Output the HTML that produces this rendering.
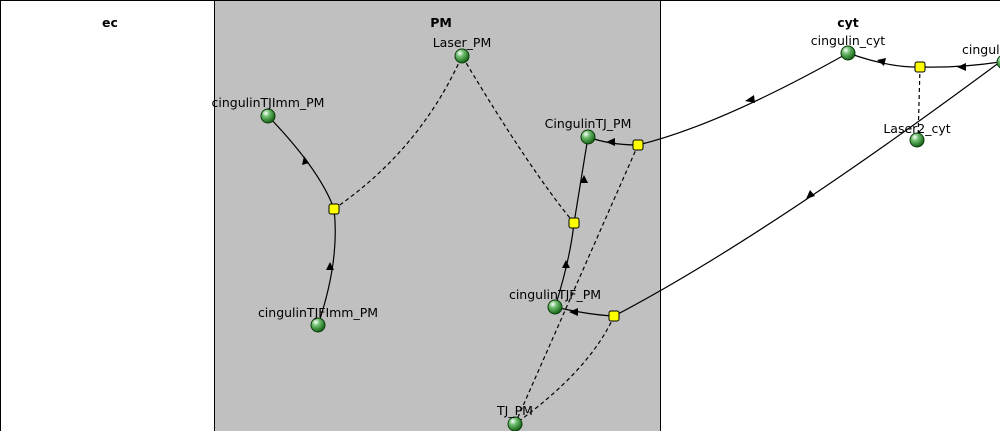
<!DOCTYPE html>
<html><head><style>
body{margin:0;width:1000px;height:431px;overflow:hidden;background:#fff}
svg text{font-family:"DejaVu Sans","Liberation Sans",sans-serif;font-size:12.5px;fill:#000}
</style></head><body>
<svg width="1000" height="431" viewBox="0 0 1000 431">
<defs>
<radialGradient id="g" cx="0.35" cy="0.3" r="0.75">
<stop offset="0" stop-color="#ffffff"/><stop offset="0.35" stop-color="#6fbf6f"/><stop offset="1" stop-color="#0d5a0d"/>
</radialGradient>
</defs>
<rect x="0" y="0" width="1000" height="431" fill="#fff"/>
<rect x="214" y="0" width="446" height="431" fill="#c0c0c0"/>
<line x1="0.5" y1="0" x2="0.5" y2="431" stroke="#000"/>
<line x1="214.5" y1="0" x2="214.5" y2="431" stroke="#000"/>
<line x1="660.5" y1="0" x2="660.5" y2="431" stroke="#000"/>
<line x1="0" y1="0.5" x2="1000" y2="0.5" stroke="#000"/>
<text x="110" y="27" text-anchor="middle" font-weight="bold">ec</text>
<text x="441" y="27" text-anchor="middle" font-weight="bold">PM</text>
<text x="848" y="27" text-anchor="middle" font-weight="bold">cyt</text>
<g fill="none" stroke="#000" stroke-width="1.2">
<path d="M334,209 Q420,150 462,56" stroke-dasharray="4,3"/>
<path d="M574,223 Q530,170 462,56" stroke-dasharray="4,3"/>
<path d="M638,145 L515,424" stroke-dasharray="4,3"/>
<path d="M614,316 Q590,370 515,424" stroke-dasharray="4,3"/>
<path d="M920,67 L918,140" stroke-dasharray="4,3"/>
<path d="M318,325 Q340,260 334,209"/>
<path d="M334,209 Q320,170 268,116"/>
<path d="M555,307 Q570,260 574,223"/>
<path d="M574,223 L588,137"/>
<path d="M638,145 Q610,145 588,137"/>
<path d="M848,53 Q720,125 638,145"/>
<path d="M1000,62 Q960,68 920,67"/>
<path d="M920,67 Q890,68 848,53"/>
<path d="M1000,62 Q760,240 614,316"/>
<path d="M614,316 Q590,315 555,307"/>
</g>
<g fill="#000">
<path d="M330,262 l-4,8 h8 z"/>
<path d="M302,165 l2,-9 l5,7 z"/>
<path d="M566,260 l-4,8 h8 z"/>
<path d="M584,175 l-4,8 h8 z"/>
<path d="M606,142 l9,-4 l0,8 z"/>
<path d="M745,101 l9,-6 l1,8 z"/>
<path d="M877,60 l9,-2 l-2,8 z"/>
<path d="M957,67 l9,-4 l0,8 z"/>
<path d="M806,199 l4,-9 l5,6 z"/>
<path d="M569,312 l9,-4 l0,8 z"/>
</g>
<g fill="#ffff00" stroke="#000" stroke-width="1">
<rect x="329" y="204" width="10" height="10" rx="2"/>
<rect x="569" y="218" width="10" height="10" rx="2"/>
<rect x="633" y="140" width="10" height="10" rx="2"/>
<rect x="609" y="311" width="10" height="10" rx="2"/>
<rect x="915" y="62" width="10" height="10" rx="2"/>
</g>
<g fill="url(#g)" stroke="#0a3a0a" stroke-width="1">
<circle cx="462" cy="56" r="7"/>
<circle cx="268" cy="116" r="7"/>
<circle cx="318" cy="325" r="7"/>
<circle cx="588" cy="137" r="7"/>
<circle cx="555" cy="307" r="7"/>
<circle cx="515" cy="424" r="7"/>
<circle cx="848" cy="53" r="7"/>
<circle cx="1004" cy="62" r="7"/>
<circle cx="917" cy="140" r="7"/>
</g>
<text x="462" y="47" text-anchor="middle">Laser_PM</text>
<text x="268" y="107" text-anchor="middle">cingulinTJImm_PM</text>
<text x="318" y="317" text-anchor="middle">cingulinTJFImm_PM</text>
<text x="588" y="128" text-anchor="middle">CingulinTJ_PM</text>
<text x="555" y="299" text-anchor="middle">cingulinTJF_PM</text>
<text x="515" y="415" text-anchor="middle">TJ_PM</text>
<text x="848" y="45" text-anchor="middle">cingulin_cyt</text>
<text x="962" y="54">cingulin_</text>
<text x="917" y="133" text-anchor="middle">Laser2_cyt</text>
</svg>
</body></html>
